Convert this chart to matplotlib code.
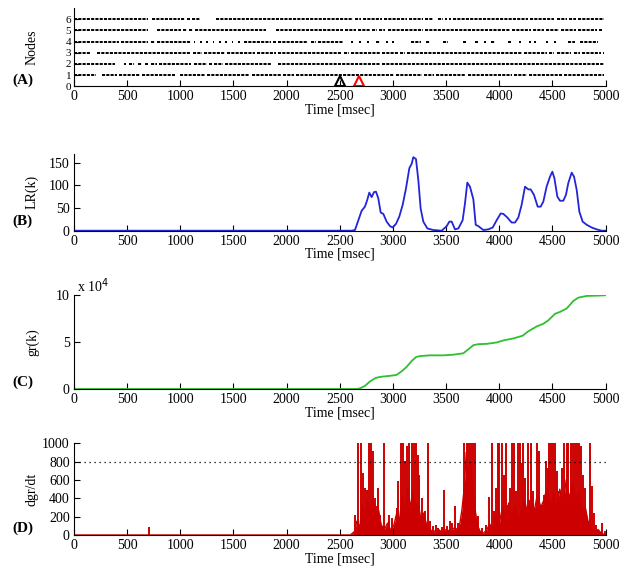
import matplotlib
matplotlib.use("Agg")
import matplotlib.pyplot as plt

plt.rcParams["font.family"] = ["Liberation Serif", "DejaVu Serif"]
plt.rcParams["font.size"] = 10

# ---- (A) raster: active intervals [ms] per node ----
node1 = [(0, 210), (260, 400), (420, 620), (640, 950), (1000, 1230), (1250, 1650),
         (1670, 1950), (1970, 2070), (2090, 3010), (3030, 3270), (3290, 3390),
         (3410, 3690), (3710, 4120), (4140, 4260), (4280, 4590), (4610, 4990)]
node2 = [(0, 390), (470, 490), (520, 560), (600, 640), (670, 700), (720, 780),
         (800, 1100), (1130, 1250), (1270, 1300), (1320, 1400), (1420, 1850),
         (1920, 2880), (2900, 4990)]
node3 = [(0, 150), (215, 1100), (1120, 1200), (1220, 1420), (1440, 1700), (1720, 1900),
         (1920, 2520), (2540, 2590), (2610, 2880), (2900, 3050), (3070, 3110),
         (3130, 4210), (4230, 4450), (4470, 4520), (4540, 4680), (4700, 4760),
         (4780, 4960), (4980, 4990)]
node4 = [(0, 420), (440, 700), (720, 760), (780, 1100), (1125, 1140), (1185, 1200),
         (1245, 1260), (1305, 1320), (1365, 1380), (1425, 1440), (1485, 1500),
         (1545, 1560), (1600, 1850), (1870, 1900), (1920, 2200), (2230, 2280),
         (2300, 2530), (2605, 2620), (2685, 2700), (2760, 2775), (2840, 2880),
         (2935, 2950), (2995, 3010), (3173, 3267), (3314, 3345), (3471, 3518),
         (3659, 3690), (3769, 3800), (3860, 3875), (3925, 3957), (4082, 4114),
         (4190, 4205), (4285, 4300), (4330, 4345), (4440, 4455), (4520, 4535),
         (4647, 4710), (4757, 4929)]
node5 = [(0, 700), (780, 1010), (1030, 1060), (1080, 1120), (1140, 1810), (1900, 2530),
         (2550, 2650), (2670, 2780), (2800, 2850), (2870, 2930), (2950, 3280),
         (3300, 4100), (4120, 4300), (4320, 4420), (4440, 4560), (4580, 4720),
         (4740, 4920), (4940, 4970)]
node6 = [(0, 700), (735, 1000), (1010, 1040), (1060, 1090), (1110, 1190), (1340, 2620),
         (2640, 2700), (2720, 2900), (2920, 3130), (3150, 3280), (3300, 3380),
         (3420, 3470), (3490, 3510), (3530, 3550), (3570, 4270), (4290, 4520),
         (4540, 4640), (4660, 4720), (4740, 4990)]
nodes = [node1, node2, node3, node4, node5, node6]
marker_black = 2502   # ms
marker_red = 2681     # ms

# ---- (B) LR(k) ----
lr_t = [0, 2612, 2643, 2675, 2706, 2737, 2759, 2778, 2800, 2822, 2841, 2863, 2885,
        2910, 2941, 2973, 2998, 3029, 3060, 3092, 3123, 3155, 3176, 3192, 3217,
        3239, 3261, 3286, 3324, 3380, 3459, 3506, 3531, 3553, 3584, 3616, 3656,
        3678, 3700, 3725, 3757, 3779, 3804, 3851, 3898, 3939, 3976, 4014, 4039,
        4077, 4117, 4149, 4180, 4211, 4243, 4274, 4296, 4327, 4362, 4390, 4415,
        4446, 4478, 4500, 4519, 4547, 4572, 4603, 4628, 4650, 4682, 4704, 4729,
        4754, 4785, 4823, 4870, 4917, 4964, 5000]
lr_v = [0, 0, 1.5, 23, 44, 53, 68, 84, 74, 85, 86, 71, 40,
        37, 20, 10, 7, 15, 31, 57, 93, 138, 147, 162, 158,
        112, 49, 20, 5, 1.5, 0, 10, 20, 20, 3, 5, 23,
        60, 106, 97, 69, 13, 10, 1.5, 3, 7, 23, 38, 37,
        29, 18, 18, 29, 57, 97, 91, 91, 79, 53, 53, 64,
        97, 119, 130, 116, 75, 66, 66, 79, 105, 128, 119, 90,
        42, 20, 13, 7, 3, 0, 0]

# ---- (C) gr(k) ----
gr_t = [0, 2659, 2690, 2737, 2784, 2832, 2863, 2910, 2973, 3035, 3082, 3129, 3176,
        3217, 3255, 3349, 3474, 3568, 3663, 3710, 3757, 3804, 3882, 3976, 4039,
        4133, 4221, 4274, 4352, 4415, 4462, 4525, 4572, 4635, 4697, 4744, 4823,
        4917, 5000]
gr_v = [0, 0, 700, 3300, 8000, 11400, 12500, 13300, 14000, 15000, 18800, 23500, 29700,
        34000, 35000, 35800, 35800, 36500, 38000, 42300, 46600, 47700, 48000, 49500, 51700,
        53800, 56700, 61400, 66500, 69400, 73000, 80000, 82000, 85700, 93600, 97200, 99000,
        99300, 99700]

# ---- (D) dgr/dt: spike times / peak heights, and the dense low-level floor ----
spike_t = [702, 2643, 2674, 2696, 2721, 2737, 2756, 2775, 2794, 2812, 2831, 2847, 2863,
           2878, 2919, 2941, 2966, 2988, 3019, 3035, 3051, 3073, 3098, 3113, 3135,
           3151, 3176, 3198, 3217, 3233, 3245, 3270, 3302, 3327, 3349, 3380, 3402,
           3427, 3465, 3483, 3506, 3537, 3559, 3584, 3609, 3631, 3672, 3694, 3716,
           3734, 3756, 3772, 3803, 3835, 3872, 3904, 3929, 3948, 3966, 3985, 4001,
           4023, 4042, 4061, 4086, 4101, 4123, 4142, 4155, 4173, 4195, 4211, 4227,
           4242, 4267, 4283, 4299, 4321, 4337, 4352, 4377, 4399, 4418, 4437, 4456,
           4468, 4487, 4509, 4525, 4540, 4556, 4575, 4594, 4612, 4634, 4650, 4672,
           4691, 4713, 4732, 4750, 4769, 4785, 4807, 4838, 4857, 4876, 4891, 4910,
           4932, 4963, 4995]
spike_v = [84, 222, 1100, 1100, 676, 513, 495, 1100, 1100, 912, 404, 313, 513,
           222, 1100, 76, 222, 185, 113, 295, 585, 1100, 1100, 804, 967,
           1100, 1100, 1100, 1100, 876, 658, 404, 258, 1100, 149, 95, 106,
           76, 83, 495, 95, 149, 131, 313, 131, 106, 1100, 1100, 1100,
           1100, 1100, 1100, 204, 76, 113, 411, 1100, 258, 513, 1100, 1100,
           1100, 658, 1100, 331, 513, 1100, 1100, 476, 1100, 1100, 785, 1100,
           621, 1100, 385, 1100, 476, 295, 1100, 912, 331, 440, 804, 731,
           1100, 1100, 1100, 1100, 694, 476, 331, 731, 1100, 1100, 1100, 1100,
           1100, 1100, 1100, 1100, 967, 658, 513, 149, 1100, 531, 240, 113,
           58, 131, 40]
# jagged low-level band under the spikes
floor_t = [0, 2600, 2640, 2660, 2690, 2710, 2740, 2760, 2790, 2810, 2840, 2860, 2890,
           2920, 2950, 2980, 3010, 3040, 3060, 3090, 3110, 3140, 3160, 3190, 3210,
           3240, 3260, 3290, 3320, 3350, 3380, 3420, 3460, 3500, 3540, 3580, 3620,
           3650, 3670, 3690, 3710, 3730, 3760, 3790, 3820, 3850, 3880, 3910, 3940,
           3970, 4000, 4030, 4060, 4090, 4120, 4150, 4180, 4210, 4240, 4270, 4300,
           4330, 4360, 4390, 4420, 4450, 4480, 4510, 4540, 4570, 4600, 4630, 4660,
           4690, 4720, 4750, 4780, 4810, 4840, 4870, 4900, 4930, 4960, 5000]
floor_v = [0, 0, 40, 150, 90, 320, 180, 380, 240, 420, 200, 300, 110,
           60, 130, 50, 110, 260, 150, 420, 260, 520, 300, 480, 320,
           350, 180, 240, 90, 60, 30, 70, 30, 60, 40, 80, 50,
           280, 500, 900, 650, 800, 420, 120, 40, 20, 50, 120, 60,
           220, 120, 300, 180, 350, 200, 320, 160, 280, 380, 200, 420,
           260, 450, 300, 380, 520, 280, 460, 300, 500, 320, 600, 400,
           560, 380, 450, 260, 300, 120, 80, 30, 60, 20, 0]
threshold = 800

XTICKS = list(range(0, 5001, 500))
LEFT, WIDTH = 74 / 636, 531.5 / 636


def style_axes(ax):
    """MATLAB 풍: box off, 안쪽 눈금."""
    ax.spines["top"].set_visible(False)
    ax.spines["right"].set_visible(False)
    ax.tick_params(direction="in", length=4, width=0.8, pad=3, labelsize=10)
    ax.set_xlim(0, 5000)
    ax.set_xticks(XTICKS)
    ax.set_xlabel("Time [msec]", labelpad=0)
    ax.yaxis.set_label_coords(-0.066, 0.5)


fig = plt.figure(figsize=(6.36, 5.69), dpi=100)

def add_axes(top_px, bottom_px):
    return fig.add_axes([LEFT, 1 - bottom_px / 569, WIDTH, (bottom_px - top_px) / 569])

# (A)
axA = add_axes(8, 86.3)
for i, row in enumerate(nodes, start=1):
    axA.hlines([i] * len(row), [a for a, b in row], [b for a, b in row],
               colors="black", linewidth=1.4, linestyles=(0, (1.6, 0.6)))
axA.plot([marker_black], [0.5], marker="^", mfc="none", mec="black", ms=7, mew=1.5)
axA.plot([marker_red], [0.5], marker="^", mfc="none", mec="red", ms=7, mew=1.5)
axA.set_ylim(0, 7)
axA.set_yticks(range(0, 7))
axA.set_ylabel("Nodes")
style_axes(axA)
# 노드 번호 간격이 좁아서 y 눈금 글자만 조금 작게
axA.tick_params(axis="y", labelsize=8, pad=2)

# (B)
axB = add_axes(154, 230.7)
axB.plot(lr_t, lr_v, color="#2424d8", linewidth=1.3)
axB.set_ylim(0, 169)
axB.set_yticks([0, 50, 100, 150])
axB.set_ylabel("LR(k)")
style_axes(axB)

# (C)
axC = add_axes(295, 389)
axC.plot(gr_t, gr_v, color="#2ec12e", linewidth=1.3)
axC.set_ylim(0, 1.0e5)
axC.set_yticks([0, 5e4, 1e5])
axC.set_yticklabels(["0", "5", "10"])
axC.set_ylabel("gr(k)")
axC.text(0.005, 1.0, r"x 10$^4$", transform=axC.transAxes, fontsize=10,
         va="bottom", ha="left")
style_axes(axC)

# (D)
axD = add_axes(443.3, 535)
axD.fill_between(floor_t, 0, floor_v, color="#cc0000", linewidth=0)
axD.plot(floor_t, floor_v, color="#cc0000", linewidth=1.0)
axD.vlines(spike_t, 0, spike_v, colors="#cc0000", linewidth=1.4)
axD.axhline(threshold, color="black", linestyle=(0, (1, 3)), linewidth=0.9)
axD.set_ylim(0, 1000)
axD.set_yticks(range(0, 1001, 200))
axD.set_ylabel("dgr/dt")
style_axes(axD)

# 패널 라벨
for label, ypx in [("(A)", 80), ("(B)", 221), ("(C)", 382), ("(D)", 528)]:
    fig.text(12 / 636, 1 - ypx / 569, label, fontsize=11, fontweight="bold",
             va="center", ha="left")

fig.savefig("out.png", dpi=100)
